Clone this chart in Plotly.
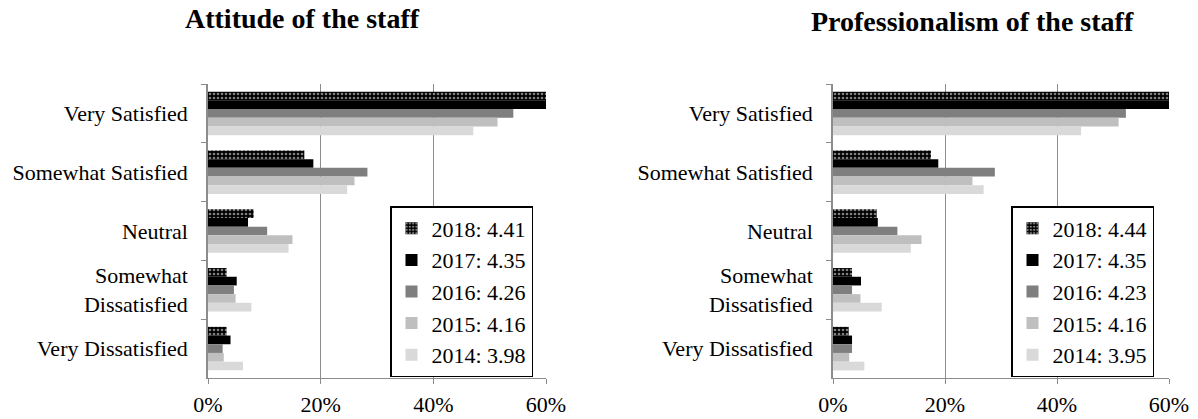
import plotly.graph_objects as go

categories = ["Very Satisfied", "Somewhat Satisfied", "Neutral",
              "Somewhat<br>Dissatisfied", "Very Dissatisfied"]
years = ["2018", "2017", "2016", "2015", "2014"]

# Attitude of the staff (% of responses)
attitude = {
    "2018": [68.2, 17.1, 8.1, 3.3, 3.3],
    "2017": [65.1, 18.7, 7.1, 5.1, 4.0],
    "2016": [54.2, 28.3, 10.5, 4.6, 2.6],
    "2015": [51.4, 26.0, 15.0, 4.9, 2.8],
    "2014": [47.1, 24.7, 14.3, 7.7, 6.2],
}
attitude_means = ["4.41", "4.35", "4.26", "4.16", "3.98"]

# Professionalism of the staff (% of responses)
professionalism = {
    "2018": [68.5, 17.5, 7.8, 3.4, 2.8],
    "2017": [64.8, 18.8, 8.0, 5.0, 3.4],
    "2016": [52.3, 28.9, 11.5, 3.4, 3.4],
    "2015": [51.0, 24.9, 15.8, 4.9, 2.9],
    "2014": [44.3, 26.9, 13.9, 8.7, 5.6],
}
prof_means = ["4.44", "4.35", "4.23", "4.16", "3.95"]

x_ticks = [0, 20, 40, 60]
x_labels = ["0%", "20%", "40%", "60%"]

colors = {"2018": "black", "2017": "#000000", "2016": "#7f7f7f",
          "2015": "#bfbfbf", "2014": "#d9d9d9"}

FONT = "Liberation Serif"
W, H = 1198, 419


def fx(px):
    return px / W


def fy(py):
    return 1 - py / H


fig = go.Figure()

for data, means, xa, ya, leg in [(attitude, attitude_means, "x", "y", "legend"),
                                 (professionalism, prof_means, "x2", "y2", "legend2")]:
    for yr, m in zip(years, means):
        marker = dict(color=colors[yr], line=dict(width=0))
        if yr == "2018":
            # checkered fill: white dots on black
            marker["pattern"] = dict(shape=".", fgcolor="white", bgcolor="black",
                                     size=4, solidity=0.35)
        fig.add_trace(go.Bar(
            x=data[yr], y=categories, orientation="h",
            name=f"{yr}: {m}", marker=marker,
            xaxis=xa, yaxis=ya, legend=leg,
        ))

axis_common = dict(
    range=[0, 60], tickvals=x_ticks, ticktext=x_labels,
    showgrid=True, gridcolor="#8c8c8c", gridwidth=1,
    showline=True, linecolor="#8c8c8c", linewidth=1,
    ticks="outside", ticklen=5, tickcolor="#8c8c8c", ticklabelstandoff=2,
    zeroline=False, fixedrange=True, automargin=False,
    tickfont=dict(family=FONT, size=22, color="black"),
)
yaxis_common = dict(
    autorange="reversed", type="category",
    showline=True, linecolor="#8c8c8c", linewidth=1.5,
    ticks="outside", ticklen=5, tickcolor="#8c8c8c", tickson="boundaries",
    showgrid=False, ticklabelstandoff=14, automargin=False,
    tickfont=dict(family=FONT, size=22, color="black"),
)

legend_common = dict(
    bordercolor="black", borderwidth=1.5, bgcolor="white",
    font=dict(family=FONT, size=22, color="black"),
    xanchor="left", yanchor="bottom",
    itemclick=False,
)

fig.update_layout(
    width=W, height=H,
    margin=dict(l=0, r=0, t=0, b=0, pad=0),
    paper_bgcolor="white", plot_bgcolor="white",
    barmode="group", bargap=0.26, bargroupgap=0,
    xaxis=dict(domain=[fx(208), fx(546)], anchor="y", **axis_common),
    yaxis=dict(domain=[fy(378), fy(84)], anchor="x", **yaxis_common),
    xaxis2=dict(domain=[fx(833), fx(1169)], anchor="y2", **axis_common),
    yaxis2=dict(domain=[fy(378), fy(84)], anchor="x2", **yaxis_common),
    legend=dict(x=fx(390), y=fy(377), **legend_common),
    legend2=dict(x=fx(1011), y=fy(377), **legend_common),
    showlegend=True,
    annotations=[
        dict(text="<b>Attitude of the staff</b>", x=fx(302), y=fy(18),
             xref="paper", yref="paper", showarrow=False,
             xanchor="center", yanchor="middle",
             font=dict(family=FONT, size=28, color="black")),
        dict(text="<b>Professionalism of the staff</b>", x=fx(972), y=fy(22),
             xref="paper", yref="paper", showarrow=False,
             xanchor="center", yanchor="middle",
             font=dict(family=FONT, size=28, color="black")),
    ],
)

# drop the default page margin so the figure fills the window exactly
fig.write_html("out.html", config={"displayModeBar": False},
               post_script="document.body.style.margin='0';")
